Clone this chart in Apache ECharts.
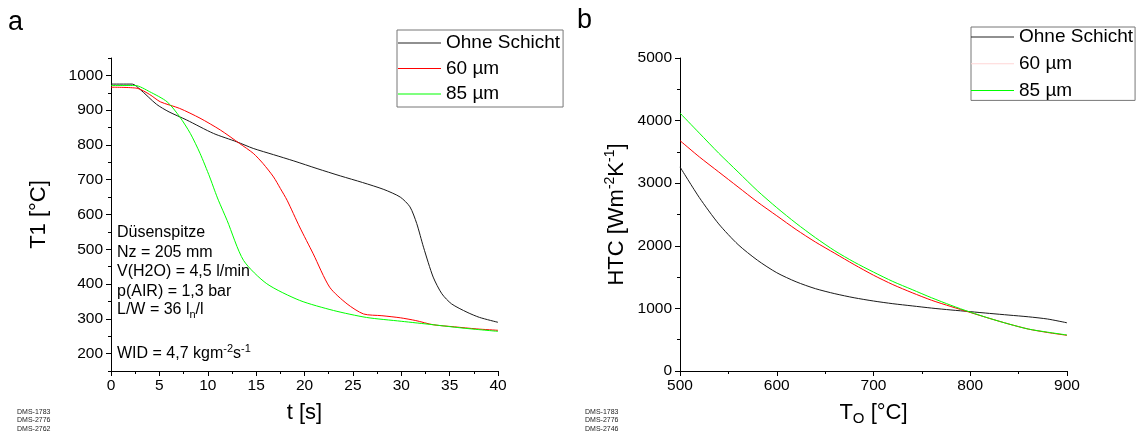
<!DOCTYPE html>
<html><head><meta charset="utf-8">
<script src="https://cdn.jsdelivr.net/npm/echarts@6/dist/echarts.min.js"></script>
<style>html,body{margin:0;padding:0;background:#fff}#c{width:1139px;height:435px}</style>
</head><body><div id="c"></div>
<script>
// ---------- data ----------
const seriesNames = ['Ohne Schicht', '60 µm', '85 µm'];
const seriesColors = ['#1a1a1a', '#ff0000', '#00ff00'];

// panel a: T1 [°C] vs t [s]
const timeBlack = [0, 2.2, 3, 4.7, 6, 7.8, 10.6, 13, 14.7, 16.8, 18.9, 21.3, 23.7, 26, 28.2, 29.9, 30.9, 31.6, 32.3, 33.3, 34.2, 35.2, 36.8, 38.1, 40];
const t1Black   = [975, 975, 960, 917, 895, 872, 833, 809, 790, 772, 754, 732, 711, 692, 672, 650, 622, 574, 506, 420, 372, 343, 319, 304, 290];
const timeRed   = [0, 2.7, 4, 5.1, 7.1, 9.2, 11.3, 13.3, 14.7, 15.7, 16.8, 17.5, 18.2, 19.5, 20.9, 22.6, 24.4, 26.1, 28, 29.9, 31.5, 33.3, 35.5, 37.8, 40];
const t1Red     = [966, 963, 945, 924, 905, 877, 843, 804, 776, 747, 708, 675, 641, 564, 487, 391, 343, 314, 309, 303, 295, 283, 277, 271, 267];
const timeGreen = [0, 2.5, 4.0, 5.8, 7.1, 8.2, 9.2, 10.2, 10.7, 11.1, 12.0, 13.7, 16.1, 19.5, 23.0, 26.4, 30, 33.3, 36.5, 40];
const t1Green   = [971, 971, 953, 924, 881, 833, 776, 708, 670, 641, 583, 468, 401, 353, 324, 304, 293, 283, 273, 264];

const leftYMajorTicks = [200, 300, 400, 500, 600, 700, 800, 900, 1000];
const leftYMinorTicks = [150, 250, 350, 450, 550, 650, 750, 850, 950, 1050];

// panel b: HTC vs T_O
const toValues  = [500, 520, 540, 560, 580, 600, 620, 640, 660, 680, 700, 720, 740, 760, 780, 800, 820, 840, 860, 880, 900];
const htcBlack  = [3260, 2770, 2350, 2020, 1770, 1570, 1425, 1315, 1235, 1170, 1118, 1075, 1040, 1005, 975, 948, 920, 893, 866, 830, 770];
const htcRed    = [3680, 3420, 3180, 2940, 2700, 2480, 2260, 2060, 1880, 1700, 1530, 1380, 1250, 1130, 1030, 935, 840, 750, 670, 615, 570];
const htcGreen  = [4120, 3800, 3480, 3180, 2880, 2610, 2360, 2130, 1920, 1740, 1580, 1430, 1300, 1170, 1050, 940, 840, 750, 670, 620, 575];

const annotationLines = ['Düsenspitze', 'Nz = 205 mm', 'V(H2O) = 4,5 l/min', 'p(AIR) = 1,3 bar', 'L/W = 36 l{sub|n}/l'];
const annotationWid = 'WID = 4,7 kgm{sup|-2}s{sup|-1}';
const dmsLeft  = ['DMS-1783', 'DMS-2776', 'DMS-2762'];
const dmsRight = ['DMS-1783', 'DMS-2776', 'DMS-2746'];

// ---------- chart ----------
const FONT = '"Liberation Sans", Arial, Helvetica, sans-serif';
const pairs = (xs, ys) => xs.map((x, i) => [x, ys[i]]);
const plain = v => String(v);

const lineAxis = { show: true, lineStyle: { color: '#000', width: 1 } };
const tickStyle = { color: '#000', width: 1 };
const labelStyle = { color: '#000', fontSize: 15.5, fontFamily: FONT, formatter: plain };
const nameStyle = {
  color: '#000', fontSize: 22, fontFamily: FONT,
  rich: {
    sup: { color: '#000', fontSize: 14, fontFamily: FONT, padding: [0, 0, 13, 0] },
    sub: { color: '#000', fontSize: 15, fontFamily: FONT, padding: [11, 0, 0, 0] }
  }
};

function mkSeries(name, color, xs, ys, xi, yi) {
  return {
    type: 'line', name, xAxisIndex: xi, yAxisIndex: yi, data: pairs(xs, ys),
    showSymbol: false, symbol: 'none', smooth: 0.25,
    lineStyle: { color, width: 1 }, itemStyle: { color }, animation: false, silent: true
  };
}

function legendFor(left, top, gap, pad, red) {
  return {
    orient: 'vertical', left, top, itemGap: gap, padding: pad,
    itemWidth: 43, itemHeight: 1, icon: 'rect', selectedMode: false,
    borderColor: '#777', borderWidth: 1, backgroundColor: 'rgba(0,0,0,0)',
    textStyle: { color: '#000', fontSize: 19, fontFamily: FONT, lineHeight: 20 },
    data: [
      { name: seriesNames[0], itemStyle: { color: '#222' } },
      { name: seriesNames[1], itemStyle: { color: red } },
      { name: seriesNames[2], itemStyle: { color: '#00ff00' } }
    ]
  };
}

const annRich = {
  sub: { fontSize: 11, fontFamily: FONT, fill: '#000', padding: [9, 0, 0, 0] },
  sup: { fontSize: 11, fontFamily: FONT, fill: '#000', padding: [0, 0, 10, 0] }
};
const annY = [233, 252.7, 271.7, 291.5, 310];
const graphics = [];
annotationLines.forEach((t, i) => graphics.push({
  type: 'text', x: 117, y: annY[i], silent: true,
  style: { text: t, fontSize: 16, fontFamily: FONT, fill: '#000', align: 'left', verticalAlign: 'middle', rich: annRich }
}));
graphics.push({
  type: 'text', x: 117, y: 354, silent: true,
  style: { text: annotationWid, fontSize: 16, fontFamily: FONT, fill: '#000', align: 'left', verticalAlign: 'middle', rich: annRich }
});
graphics.push({ type: 'text', x: 8, y: 23, silent: true,
  style: { text: 'a', fontSize: 27, fontFamily: FONT, fill: '#000', align: 'left', verticalAlign: 'middle' } });
graphics.push({ type: 'text', x: 577, y: 21, silent: true,
  style: { text: 'b', fontSize: 27, fontFamily: FONT, fill: '#000', align: 'left', verticalAlign: 'middle' } });
[[17, dmsLeft], [585, dmsRight]].forEach(([x, arr]) => arr.forEach((t, i) => graphics.push({
  type: 'text', x, y: 412 + i * 8.5, silent: true,
  style: { text: t, fontSize: 7, fontFamily: FONT, fill: '#222', align: 'left', verticalAlign: 'middle' }
})));

const option = {
  animation: false,
  backgroundColor: '#fff',
  grid: [
    { left: 111, top: 58, width: 387, height: 313 },
    { left: 680, top: 58, width: 387, height: 313 }
  ],
  legend: [
    legendFor(397, 30, 5.5, [3, 3, 3, 1], '#ff0000'),
    legendFor(971, 27, 6.7, [0, 2, 0, 0], '#ffd6d6')
  ],
  xAxis: [
    { type: 'value', gridIndex: 0, min: 0, max: 40, interval: 5,
      axisLine: lineAxis, axisTick: { show: true, length: 5, lineStyle: tickStyle },
      minorTick: { show: true, splitNumber: 2, length: 3, lineStyle: tickStyle },
      splitLine: { show: false }, axisLabel: Object.assign({ margin: 7 }, labelStyle),
      name: 't [s]', nameLocation: 'middle', nameGap: 31, nameTextStyle: nameStyle },
    { type: 'value', gridIndex: 1, min: 500, max: 900, interval: 100,
      axisLine: lineAxis, axisTick: { show: true, length: 5, lineStyle: tickStyle },
      minorTick: { show: true, splitNumber: 2, length: 3, lineStyle: tickStyle },
      splitLine: { show: false }, axisLabel: Object.assign({ margin: 7 }, labelStyle),
      name: 'T{sub|O} [°C]', nameLocation: 'middle', nameGap: 29, nameTextStyle: nameStyle }
  ],
  yAxis: [
    { type: 'value', gridIndex: 0, min: 150, max: 1050, position: 'left',
      axisLine: lineAxis,
      axisTick: { show: true, length: 5, lineStyle: tickStyle, customValues: leftYMajorTicks },
      minorTick: { show: false }, splitLine: { show: false },
      axisLabel: Object.assign({ margin: 8, customValues: leftYMajorTicks }, labelStyle),
      name: 'T1 [°C]', nameLocation: 'middle', nameGap: 61, nameTextStyle: nameStyle },
    { type: 'value', gridIndex: 0, min: 150, max: 1050, position: 'left', offset: 0,
      axisLine: { show: false },
      axisTick: { show: true, length: 3, lineStyle: tickStyle, customValues: leftYMinorTicks },
      minorTick: { show: false }, splitLine: { show: false }, axisLabel: { show: false } },
    { type: 'value', gridIndex: 1, min: 0, max: 5000, interval: 1000,
      axisLine: lineAxis, axisTick: { show: true, length: 5, lineStyle: tickStyle },
      minorTick: { show: true, splitNumber: 2, length: 3, lineStyle: tickStyle },
      splitLine: { show: false }, axisLabel: Object.assign({ margin: 8 }, labelStyle),
      name: 'HTC [Wm{sup|-2}K{sup|-1}]', nameLocation: 'middle', nameGap: 50, nameTextStyle: nameStyle }
  ],
  series: [
    mkSeries(seriesNames[0], seriesColors[0], timeBlack, t1Black, 0, 0),
    mkSeries(seriesNames[1], seriesColors[1], timeRed, t1Red, 0, 0),
    mkSeries(seriesNames[2], seriesColors[2], timeGreen, t1Green, 0, 0),
    mkSeries(seriesNames[0], seriesColors[0], toValues, htcBlack, 1, 2),
    mkSeries(seriesNames[1], seriesColors[1], toValues, htcRed, 1, 2),
    mkSeries(seriesNames[2], seriesColors[2], toValues, htcGreen, 1, 2)
  ],
  graphic: graphics
};
const chart = echarts.init(document.getElementById('c'));
chart.setOption(option);
</script>
</body></html>
